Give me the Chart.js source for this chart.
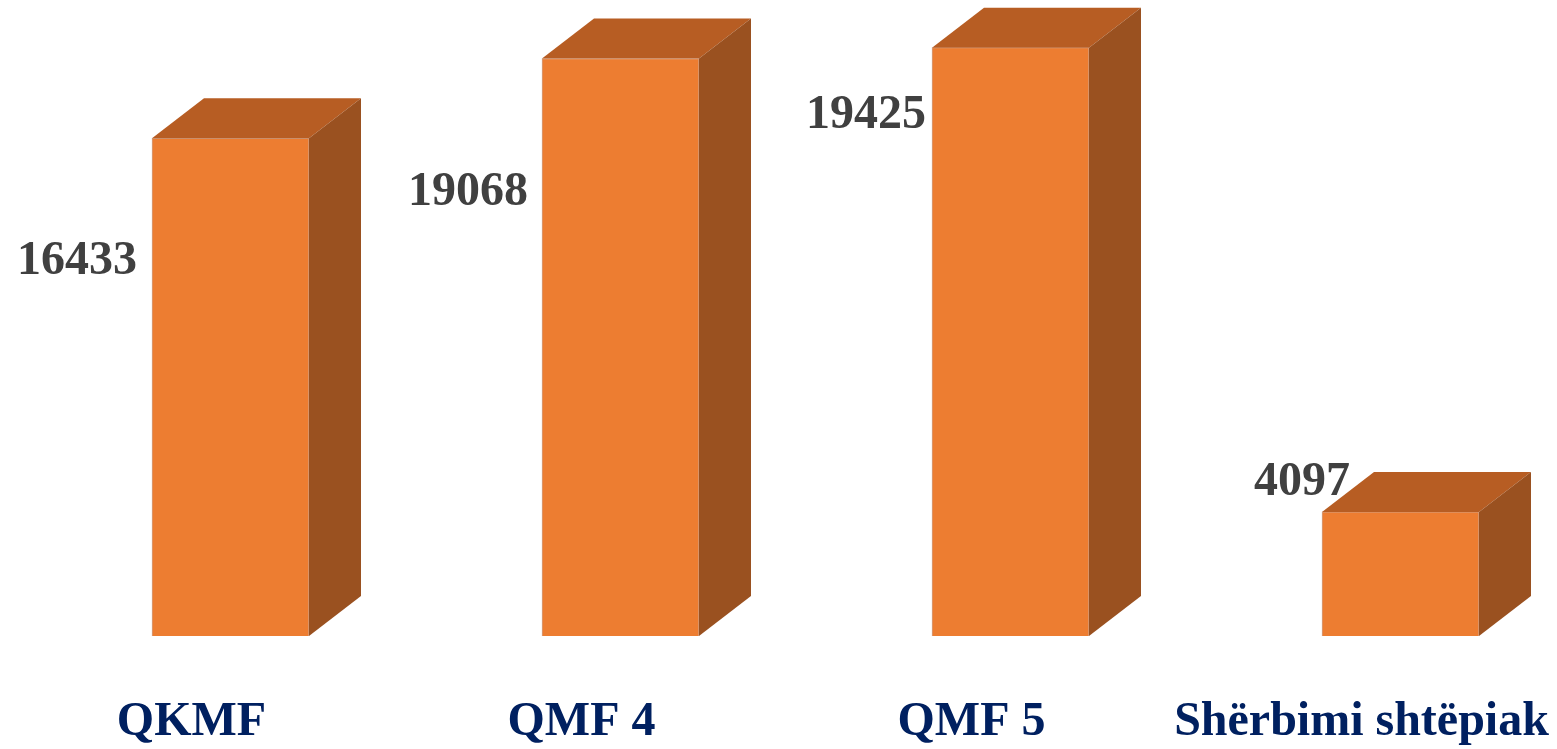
<!DOCTYPE html>
<html>
<head>
<meta charset="utf-8">
<script src="https://cdn.jsdelivr.net/npm/chart.js@4/dist/chart.umd.min.js"></script>
<style>
  body { margin: 0; background: #ffffff; }
  #wrap { width: 1557px; height: 749px; }
</style>
</head>
<body>
<div id="wrap"><canvas id="grafico" width="1557" height="749"></canvas></div>
<script>
const categorias = ['QKMF', 'QMF 4', 'QMF 5', 'Shërbimi shtëpiak'];
const valores = [16433, 19068, 19425, 4097];

// colores de las caras del bloque 3D
const colorFrente = '#ED7D31';
const colorTapa = '#B75D23';
const colorLado = '#9A5120';
const profX = 52; // profundidad en x
const profY = 40; // profundidad en y

// desplazamiento a mano de cada etiqueta de valor (respecto a la esquina superior izquierda del frente)
const ajusteEtiquetas = [[-75, 136], [-74, 146], [-66, 80], [-20, -17]];

const fuente = 'bold 48px "Liberation Serif", "Times New Roman", serif';

const bloque3D = {
    id: 'bloque3D',
    afterDatasetsDraw(chart) {
        const ctx = chart.ctx;
        const meta = chart.getDatasetMeta(0);
        ctx.save();
        meta.data.forEach((bar) => {
            const izq = bar.x - bar.width / 2;
            const der = bar.x + bar.width / 2;
            const arriba = bar.y;
            const abajo = bar.base;

            // tapa
            ctx.beginPath();
            ctx.moveTo(izq, arriba);
            ctx.lineTo(izq + profX, arriba - profY);
            ctx.lineTo(der + profX, arriba - profY);
            ctx.lineTo(der, arriba);
            ctx.closePath();
            ctx.fillStyle = colorTapa;
            ctx.fill();

            // lado derecho
            ctx.beginPath();
            ctx.moveTo(der, arriba);
            ctx.lineTo(der + profX, arriba - profY);
            ctx.lineTo(der + profX, abajo - profY);
            ctx.lineTo(der, abajo);
            ctx.closePath();
            ctx.fillStyle = colorLado;
            ctx.fill();
        });
        ctx.restore();
    },
    afterDraw(chart) {
        const ctx = chart.ctx;
        const meta = chart.getDatasetMeta(0);
        const escalaX = chart.scales.x;
        ctx.save();
        ctx.font = fuente;
        ctx.textAlign = 'center';
        ctx.textBaseline = 'alphabetic';

        // valores
        ctx.fillStyle = '#404040';
        meta.data.forEach((bar, i) => {
            const izq = bar.x - bar.width / 2;
            ctx.fillText(String(valores[i]), izq + ajusteEtiquetas[i][0], bar.y + ajusteEtiquetas[i][1]);
        });

        // categorias
        ctx.fillStyle = '#002060';
        categorias.forEach((cat, i) => {
            ctx.fillText(cat, escalaX.getPixelForValue(i) - 39, 735);
        });
        ctx.restore();
    }
};

new Chart(document.getElementById('grafico'), {
    type: 'bar',
    data: {
        labels: categorias,
        datasets: [{
            data: valores,
            backgroundColor: colorFrente,
            borderColor: 'rgba(190, 120, 80, 0.7)',
            borderWidth: 1,
            barThickness: 157,
            clip: false
        }]
    },
    options: {
        responsive: false,
        animation: false,
        events: [],
        plugins: {
            legend: { display: false },
            tooltip: { enabled: false }
        },
        layout: {
            padding: { left: 230.5, right: 156.5, top: 0, bottom: 113 }
        },
        scales: {
            x: {
                display: false,
                offset: false
            },
            y: {
                display: false,
                min: 0,
                max: 21000
            }
        }
    },
    plugins: [bloque3D]
});
</script>
</body>
</html>
